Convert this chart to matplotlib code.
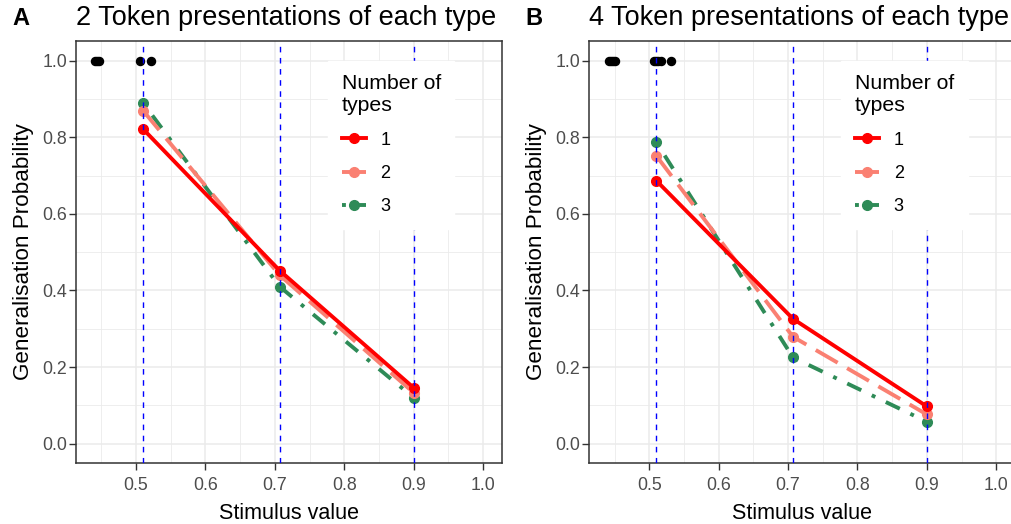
import numpy as np
import matplotlib.pyplot as plt
from matplotlib.lines import Line2D

plt.rcParams['font.family'] = ['Liberation Sans', 'DejaVu Sans']

# stimulus values tested and the reference lines
stim = [0.51, 0.707, 0.9]
vlines = [0.51, 0.707, 0.9]

# panel A: 2 token presentations
a_type1 = [0.822, 0.452, 0.146]
a_type2 = [0.870, 0.440, 0.133]
a_type3 = [0.890, 0.410, 0.120]
a_train = [0.441, 0.444, 0.447, 0.506, 0.521]

# panel B: 4 token presentations
b_type1 = [0.687, 0.326, 0.097]
b_type2 = [0.752, 0.279, 0.076]
b_type3 = [0.787, 0.225, 0.057]
b_train = [0.442, 0.445, 0.448, 0.451, 0.507, 0.510, 0.513, 0.517, 0.531]

type_labels = ['1', '2', '3']
colors = ['#FF0000', '#FA8072', '#2E8B57']
styles = ['-', (0, (6.5, 2.8)), (0, (1, 3, 4, 3))]

fig = plt.figure(figsize=(10.11, 5.24), dpi=100)
axA = fig.add_axes([0.0752, 0.117, 0.4217, 0.8048])
axB = fig.add_axes([0.5829, 0.117, 0.4217, 0.8048])


def draw_panel(ax, series, train, tag, title):
    ax.set_facecolor('white')
    for i in [2, 1, 0]:
        ax.plot(stim, series[i], color=colors[i], linestyle=styles[i], lw=2.8,
                marker='o', ms=7, zorder=3 + (2 - i) * 0.1)
    ax.plot(train, [1.0] * len(train), 'o', color='black', ms=5.8, zorder=3)
    for v in vlines:
        ax.axvline(v, color='blue', lw=1.0, linestyle=(0, (4, 4)), zorder=4)

    ax.set_xlim(0.4134, 1.028)
    ax.set_ylim(-0.05, 1.052)
    ax.set_xticks(np.arange(0.5, 1.01, 0.1))
    ax.set_xticks(np.arange(0.45, 1.0, 0.1), minor=True)
    ax.set_yticks(np.arange(0, 1.01, 0.2))
    ax.set_yticks(np.arange(0.1, 1.0, 0.2), minor=True)
    ax.xaxis.set_major_formatter(plt.FormatStrFormatter('%.1f'))
    ax.yaxis.set_major_formatter(plt.FormatStrFormatter('%.1f'))
    ax.grid(which='major', color='#EBEBEB', lw=1.1, zorder=0)
    ax.grid(which='minor', color='#EBEBEB', lw=0.6, zorder=0)
    ax.set_axisbelow(True)
    ax.tick_params(which='major', length=5, width=1, color='#333333',
                   labelcolor='#4D4D4D', labelsize=12.8)
    ax.tick_params(axis='x', pad=5)
    ax.tick_params(axis='y', pad=1.5)
    ax.tick_params(which='minor', length=0)
    for s in ax.spines.values():
        s.set_color('#333333')
        s.set_linewidth(1.1)
    ax.set_xlabel('Stimulus value', fontsize=15.5, labelpad=7)
    ax.set_ylabel('Generalisation Probability', fontsize=16.2, labelpad=6)

    ax.text(0, 1 + 16 / 421.7, title, transform=ax.transAxes, fontsize=19.5,
            va='baseline', ha='left')
    ax.text(-64 / 426.3, 1 + 16 / 421.7, tag, transform=ax.transAxes,
            fontsize=17, fontweight='bold', va='baseline', ha='left')

    handles = [Line2D([], [], color=colors[i], linestyle=styles[i], lw=2.8,
                      marker='o', ms=7) for i in range(3)]
    leg = ax.legend(handles, type_labels, title='Number of\ntypes',
                    loc='upper left', bbox_to_anchor=(0.591, 0.953),
                    fontsize=13, title_fontsize=15.3, frameon=True,
                    facecolor='white', edgecolor='white', fancybox=False,
                    framealpha=1, handlelength=1.35, handletextpad=0.8,
                    labelspacing=0.9, borderpad=0.75, alignment='left',
                    borderaxespad=0)
    leg.set_zorder(10)


draw_panel(axA, [a_type1, a_type2, a_type3], a_train, 'A',
           '2 Token presentations of each type')
draw_panel(axB, [b_type1, b_type2, b_type3], b_train, 'B',
           '4 Token presentations of each type')

fig.savefig('out.png', dpi=100, facecolor='white')
